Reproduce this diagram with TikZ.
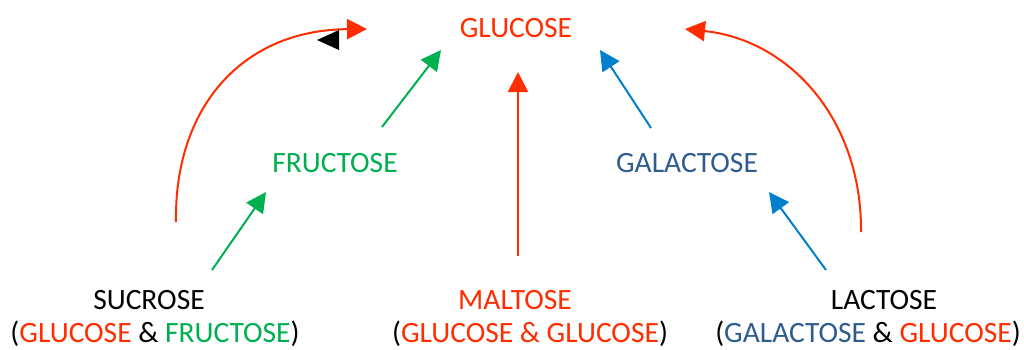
\documentclass[tikz,border=0pt]{standalone}
\usepackage{fontspec}
\setmainfont{Carlito}
\usetikzlibrary{arrows.meta}
\definecolor{cred}{RGB}{255,45,0}
\definecolor{cgreen}{RGB}{0,176,80}
\definecolor{cblue}{RGB}{0,128,204}
\definecolor{cnavy}{RGB}{46,92,142}
\begin{document}
\begin{tikzpicture}[x=1pt,y=-1pt,
  lbl/.style={inner sep=0pt,font=\fontsize{29.5}{33}\selectfont},
  conn/.style={line width=2pt,-{Triangle[length=20pt,width=20pt]}}]
\useasboundingbox (0,0) rectangle (1024,349);
% text nodes
\node[lbl,text=cred] (glu) at (516,28) {GLUCOSE};
\node[lbl,text=cgreen] (fru) at (335,163) {FRUCTOSE};
\node[lbl,text=cnavy] (gal) at (687,163) {GALACTOSE};
\node[lbl] (suc) at (149,300) {SUCROSE};
\node[lbl] (suc2) at (155,334) {(\textcolor{cred}{GLUCOSE} \& \textcolor{cgreen}{FRUCTOSE})};
\node[lbl,text=cred] (mal) at (515,300) {MALTOSE};
\node[lbl] (mal2) at (530,334) {(\textcolor{cred}{GLUCOSE \& GLUCOSE})};
\node[lbl] (lac) at (884,300) {LACTOSE};
\node[lbl] (lac2) at (868,334) {(\textcolor{cnavy}{GALACTOSE} \& \textcolor{cred}{GLUCOSE})};
% connector end points
\coordinate (sucA) at (176,222);
\coordinate (gluL) at (367,29);
\coordinate (lacA) at (861,232);
\coordinate (gluR) at (685,29);
\coordinate (fruT) at (382,127);
\coordinate (gluFL) at (441,50);
\coordinate (sucB) at (212,270);
\coordinate (fruB) at (266,192);
\coordinate (malT) at (518,256);
\coordinate (gluM) at (518,72);
\coordinate (galT) at (651,128);
\coordinate (gluFR) at (600,50);
\coordinate (lacB) at (826,270);
\coordinate (galB) at (769,192);
% connectors
\draw[conn,cred] (sucA) .. controls (174,110) and (240,30) .. (gluL);
\draw[conn,cred] (lacA) .. controls (862,120) and (790,40) .. (gluR);
\draw[conn,cgreen] (fruT) -- (gluFL);
\draw[conn,cgreen] (sucB) -- (fruB);
\draw[conn,cred] (malT) -- (gluM);
\draw[conn,cblue] (galT) -- (gluFR);
\draw[conn,cblue] (lacB) -- (galB);
% stray black arrowhead
\fill[black] (317,40) -- (339,30) -- (339,50) -- cycle;
\end{tikzpicture}
\end{document}
